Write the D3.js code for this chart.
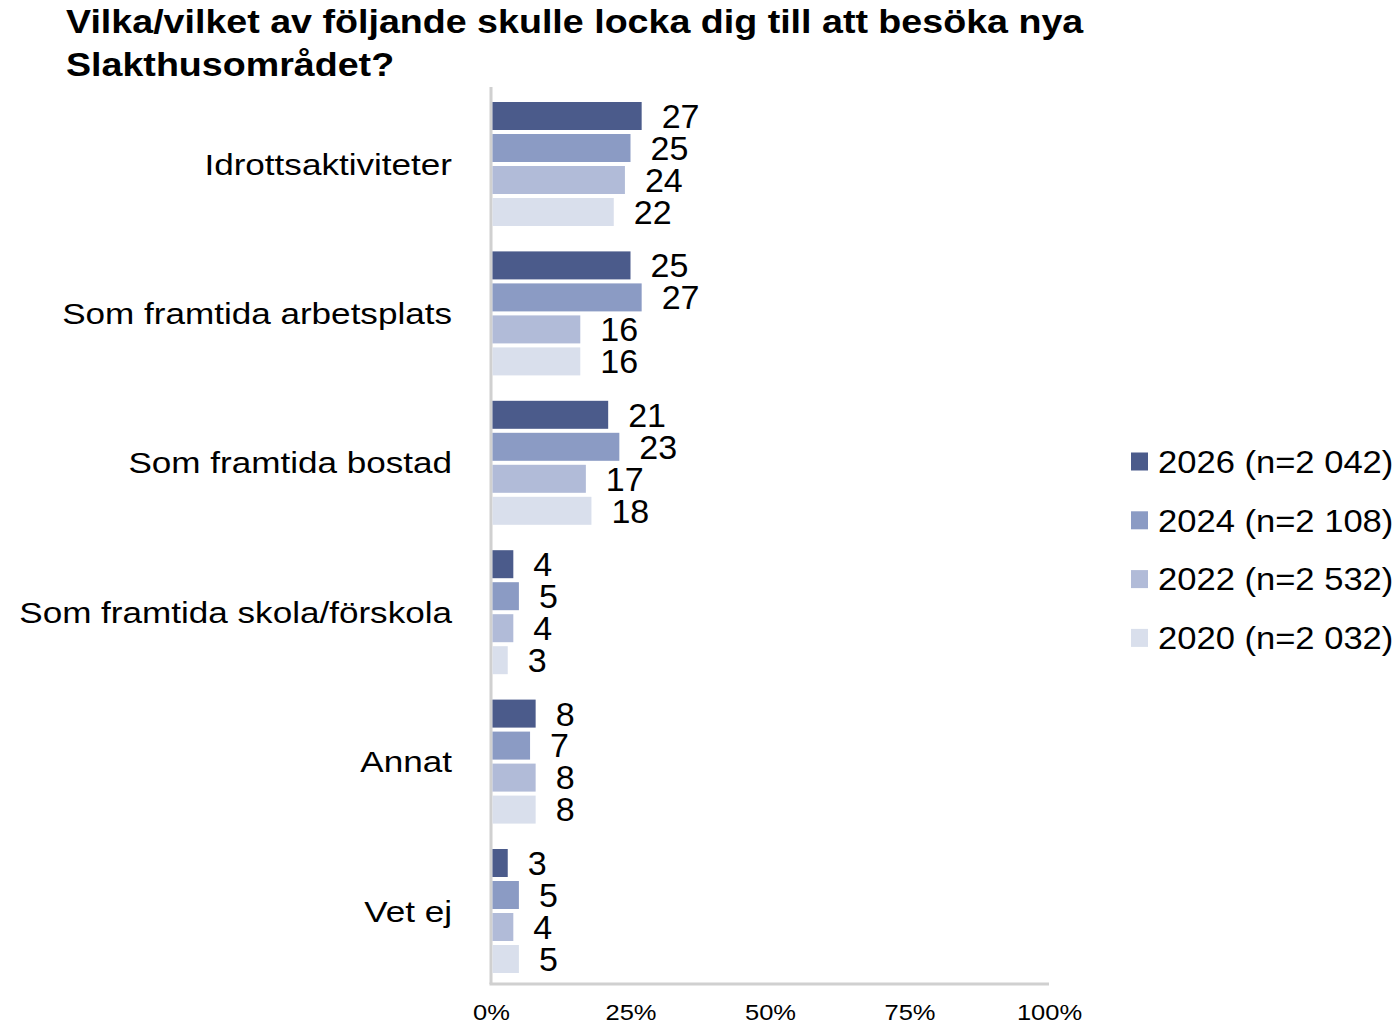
<!DOCTYPE html>
<html>
<head>
<meta charset="utf-8">
<script src="https://cdn.jsdelivr.net/npm/d3@7"></script>
<style>
  body { margin: 0; background: #fff; }
  svg { display: block; font-family: "Liberation Sans", Arial, sans-serif; }
</style>
</head>
<body>
<svg id="chart" width="1399" height="1024"></svg>
<script>
const categories = ["Idrottsaktiviteter", "Som framtida arbetsplats", "Som framtida bostad",
  "Som framtida skola/förskola", "Annat", "Vet ej"];
const seriesNames = ["2026 (n=2 042)", "2024 (n=2 108)", "2022 (n=2 532)", "2020 (n=2 032)"];
const values2026 = [27, 25, 21, 4, 8, 3];
const values2024 = [25, 27, 23, 5, 7, 5];
const values2022 = [24, 16, 17, 4, 8, 4];
const values2020 = [22, 16, 18, 3, 8, 5];
const seriesColors = ["#4b5b8b", "#8b9bc4", "#b1bbd8", "#d9dfec"];
const xTicks = [0, 25, 50, 75, 100];

const allValues = [values2026, values2024, values2022, values2020];

const svg = d3.select("#chart");

// original glyphs are a little wider than Liberation Sans -> horizontal scale
const sx = (px, py, f) => `translate(${px},${py}) scale(${f},1)`;

// title
svg.append("g").attr("transform", sx(66, 0, 1.14))
  .selectAll("text")
  .data(["Vilka/vilket av följande skulle locka dig till att besöka nya", "Slakthusområdet?"])
  .join("text")
  .attr("x", 0)
  .attr("y", (d, i) => 33 + i * 43)
  .attr("font-size", 33)
  .attr("font-weight", "bold")
  .text(d => d);

const x = d3.scaleLinear().domain([0, 100]).range([491, 1049]);
const y = d3.scaleBand().domain(categories).range([89.3, 985.7])
  .paddingInner(0.17).paddingOuter(0.085);
const ySub = d3.scaleBand().domain(seriesNames).range([0, y.bandwidth()]).paddingInner(0.125);

// axis lines
svg.append("line")
  .attr("x1", x(0)).attr("x2", x(0))
  .attr("y1", 87).attr("y2", 984)
  .attr("stroke", "#d0d0d0").attr("stroke-width", 3);
svg.append("line")
  .attr("x1", x(0) - 1.5).attr("x2", x(100))
  .attr("y1", 984).attr("y2", 984)
  .attr("stroke", "#d0d0d0").attr("stroke-width", 3);

const xAxis = d3.axisBottom(x).tickValues(xTicks).tickFormat(d => d + "%").tickSize(0).tickPadding(0);
const gx = svg.append("g").attr("transform", "translate(0,1004)").call(xAxis);
gx.select(".domain").remove();
gx.selectAll("text").attr("font-size", 22).attr("fill", "#000")
  .attr("font-family", "Liberation Sans, Arial, sans-serif").attr("dy", "0.71em")
  .attr("transform", "scale(1.16,1)");

// category labels
svg.append("g").selectAll("text")
  .data(categories)
  .join("text")
  .attr("transform", d => sx(452, y(d) + y.bandwidth() / 2, 1.17))
  .attr("dy", "0.35em")
  .attr("text-anchor", "end")
  .attr("font-size", 30)
  .text(d => d);

// bars
const groups = svg.append("g").selectAll("g")
  .data(categories)
  .join("g")
  .attr("transform", d => `translate(0,${y(d)})`);

groups.each(function (cat, ci) {
  const g = d3.select(this);
  seriesNames.forEach((s, si) => {
    const v = allValues[si][ci];
    g.append("rect")
      .attr("x", x(0) + 1.5)
      .attr("y", ySub(s))
      .attr("width", x(v) - x(0) - 1.5)
      .attr("height", ySub.bandwidth())
      .attr("fill", seriesColors[si]);
    g.append("text")
      .attr("x", x(v) + 20)
      .attr("y", ySub(s) + ySub.bandwidth() / 2)
      .attr("dy", "0.35em")
      .attr("font-size", 34)
      .text(v);
  });
});

// legend
const legend = svg.append("g").selectAll("g")
  .data(seriesNames)
  .join("g")
  .attr("transform", (d, i) => `translate(1131,${461.5 + i * 58.8})`);
legend.append("rect")
  .attr("x", 0).attr("y", -9).attr("width", 17).attr("height", 18)
  .attr("fill", (d, i) => seriesColors[i]);
legend.append("text")
  .attr("transform", sx(27, 0, 1.08))
  .attr("dy", "0.35em")
  .attr("font-size", 32)
  .text(d => d);
</script>
</body>
</html>
